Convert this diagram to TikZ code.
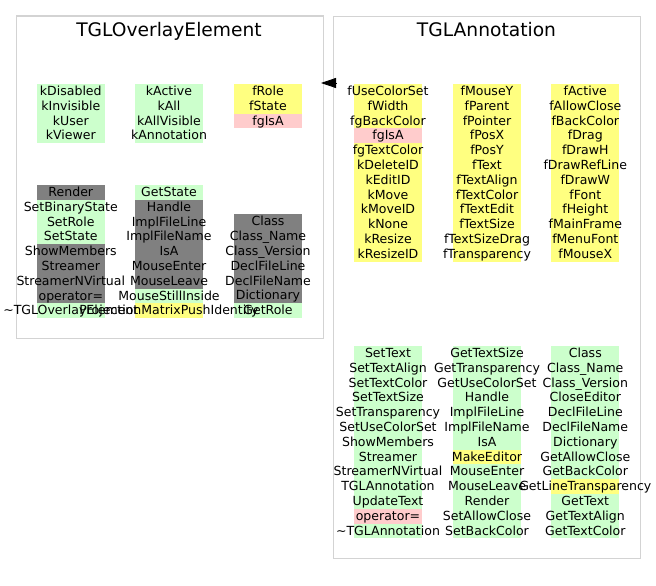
\documentclass[tikz,border=0pt]{standalone}
\usepackage{fontspec}
\setmainfont{DejaVu Sans}
\usetikzlibrary{arrows.meta,backgrounds}

\definecolor{cgrn}{RGB}{204,255,204}
\definecolor{cyel}{RGB}{255,255,128}
\definecolor{cpnk}{RGB}{255,204,204}
\definecolor{cgry}{RGB}{128,128,128}
\definecolor{cframe}{RGB}{211,211,211}

\tikzset{
  cell/.style={inner sep=0pt, anchor=base, font=\fontsize{9.4}{11}\selectfont},
  clusterbox/.style={draw=cframe, line width=1pt, inner sep=0pt, anchor=north west},
  clustertitle/.style={inner sep=0pt, anchor=base, font=\fontsize{14}{16}\selectfont},
  inherit/.style={-{Triangle[length=11.25pt,width=7.5pt]}, line width=0.6pt},
  rowg/.style={fill=cgrn}, rowy/.style={fill=cyel}, rowp/.style={fill=cpnk}, rowd/.style={fill=cgry},
}

% one column of member rows: name, centre x, top y, list of colour/text
\newcommand\classcol[4]{%
  \foreach \c/\t [count=\i] in {#4} {
    \begin{scope}[on background layer]
      \path[row\c] ({#2-34},{#3+(\i-1)*14.8}) rectangle ++(68,14.8);
    \end{scope}
    \node[cell] (#1-\i) at (#2,{#3+(\i-1)*14.8+11.5}) {\t};
  }}

\begin{document}
\begin{tikzpicture}[x=0.75pt,y=-0.75pt]
\useasboundingbox (0,0) rectangle (656,585);

% TGLOverlayElement cluster
\node[clusterbox, minimum width=230.25pt, minimum height=241.9pt] (ovl) at (15.5,15.5) {};
\node[clustertitle] (ovl-title) at (169,37) {TGLOverlayElement};

\classcol{ovlA}{70.8}{84}{g/kDisabled, g/kInvisible, g/kUser, g/kViewer}
\classcol{ovlB}{169}{84}{g/kActive, g/kAll, g/kAllVisible, g/kAnnotation}
\classcol{ovlC}{268}{84}{y/fRole, y/fState, p/fgIsA}

\classcol{ovlD}{70.8}{185}{d/Render, g/SetBinaryState, g/SetRole, g/SetState, d/ShowMembers, d/Streamer, d/StreamerNVirtual, d/operator=, g/\textasciitilde TGLOverlayElement}
\classcol{ovlE}{169}{185}{g/GetState, d/Handle, d/ImplFileLine, d/ImplFileName, d/IsA, d/MouseEnter, d/MouseLeave, g/MouseStillInside, y/ProjectionMatrixPushIdentity}
\classcol{ovlF}{268}{214.4}{d/Class, d/Class\_Name, d/Class\_Version, d/DeclFileLine, d/DeclFileName, d/Dictionary, g/GetRole}

% TGLAnnotation cluster
\node[clusterbox, minimum width=230.25pt, minimum height=406.5pt] (ann) at (333,16) {};
\node[clustertitle] (ann-title) at (486.5,37) {TGLAnnotation};

\classcol{annA}{388}{84}{y/fUseColorSet, y/fWidth, y/fgBackColor, p/fgIsA, y/fgTextColor, y/kDeleteID, y/kEditID, y/kMove, y/kMoveID, y/kNone, y/kResize, y/kResizeID}
\classcol{annB}{487}{84}{y/fMouseY, y/fParent, y/fPointer, y/fPosX, y/fPosY, y/fText, y/fTextAlign, y/fTextColor, y/fTextEdit, y/fTextSize, y/fTextSizeDrag, y/fTransparency}
\classcol{annC}{585.3}{84}{y/fActive, y/fAllowClose, y/fBackColor, y/fDrag, y/fDrawH, y/fDrawRefLine, y/fDrawW, y/fFont, y/fHeight, y/fMainFrame, y/fMenuFont, y/fMouseX}

\classcol{annD}{388}{346}{g/SetText, g/SetTextAlign, g/SetTextColor, g/SetTextSize, g/SetTransparency, g/SetUseColorSet, g/ShowMembers, g/Streamer, g/StreamerNVirtual, g/TGLAnnotation, g/UpdateText, p/operator=, g/\textasciitilde TGLAnnotation}
\classcol{annE}{487}{346}{g/GetTextSize, g/GetTransparency, g/GetUseColorSet, g/Handle, g/ImplFileLine, g/ImplFileName, g/IsA, y/MakeEditor, g/MouseEnter, g/MouseLeave, g/Render, g/SetAllowClose, g/SetBackColor}
\classcol{annF}{585.3}{346}{g/Class, g/Class\_Name, g/Class\_Version, g/CloseEditor, g/DeclFileLine, g/DeclFileName, g/Dictionary, g/GetAllowClose, g/GetBackColor, y/GetLineTransparency, g/GetText, g/GetTextAlign, g/GetTextColor}

% inheritance: TGLAnnotation derives from TGLOverlayElement
\coordinate (ann-base) at (336.5,83);
\coordinate (ovl-port) at (321,83);
\draw[inherit] (ann-base) -- (ovl-port);
\end{tikzpicture}
\end{document}
